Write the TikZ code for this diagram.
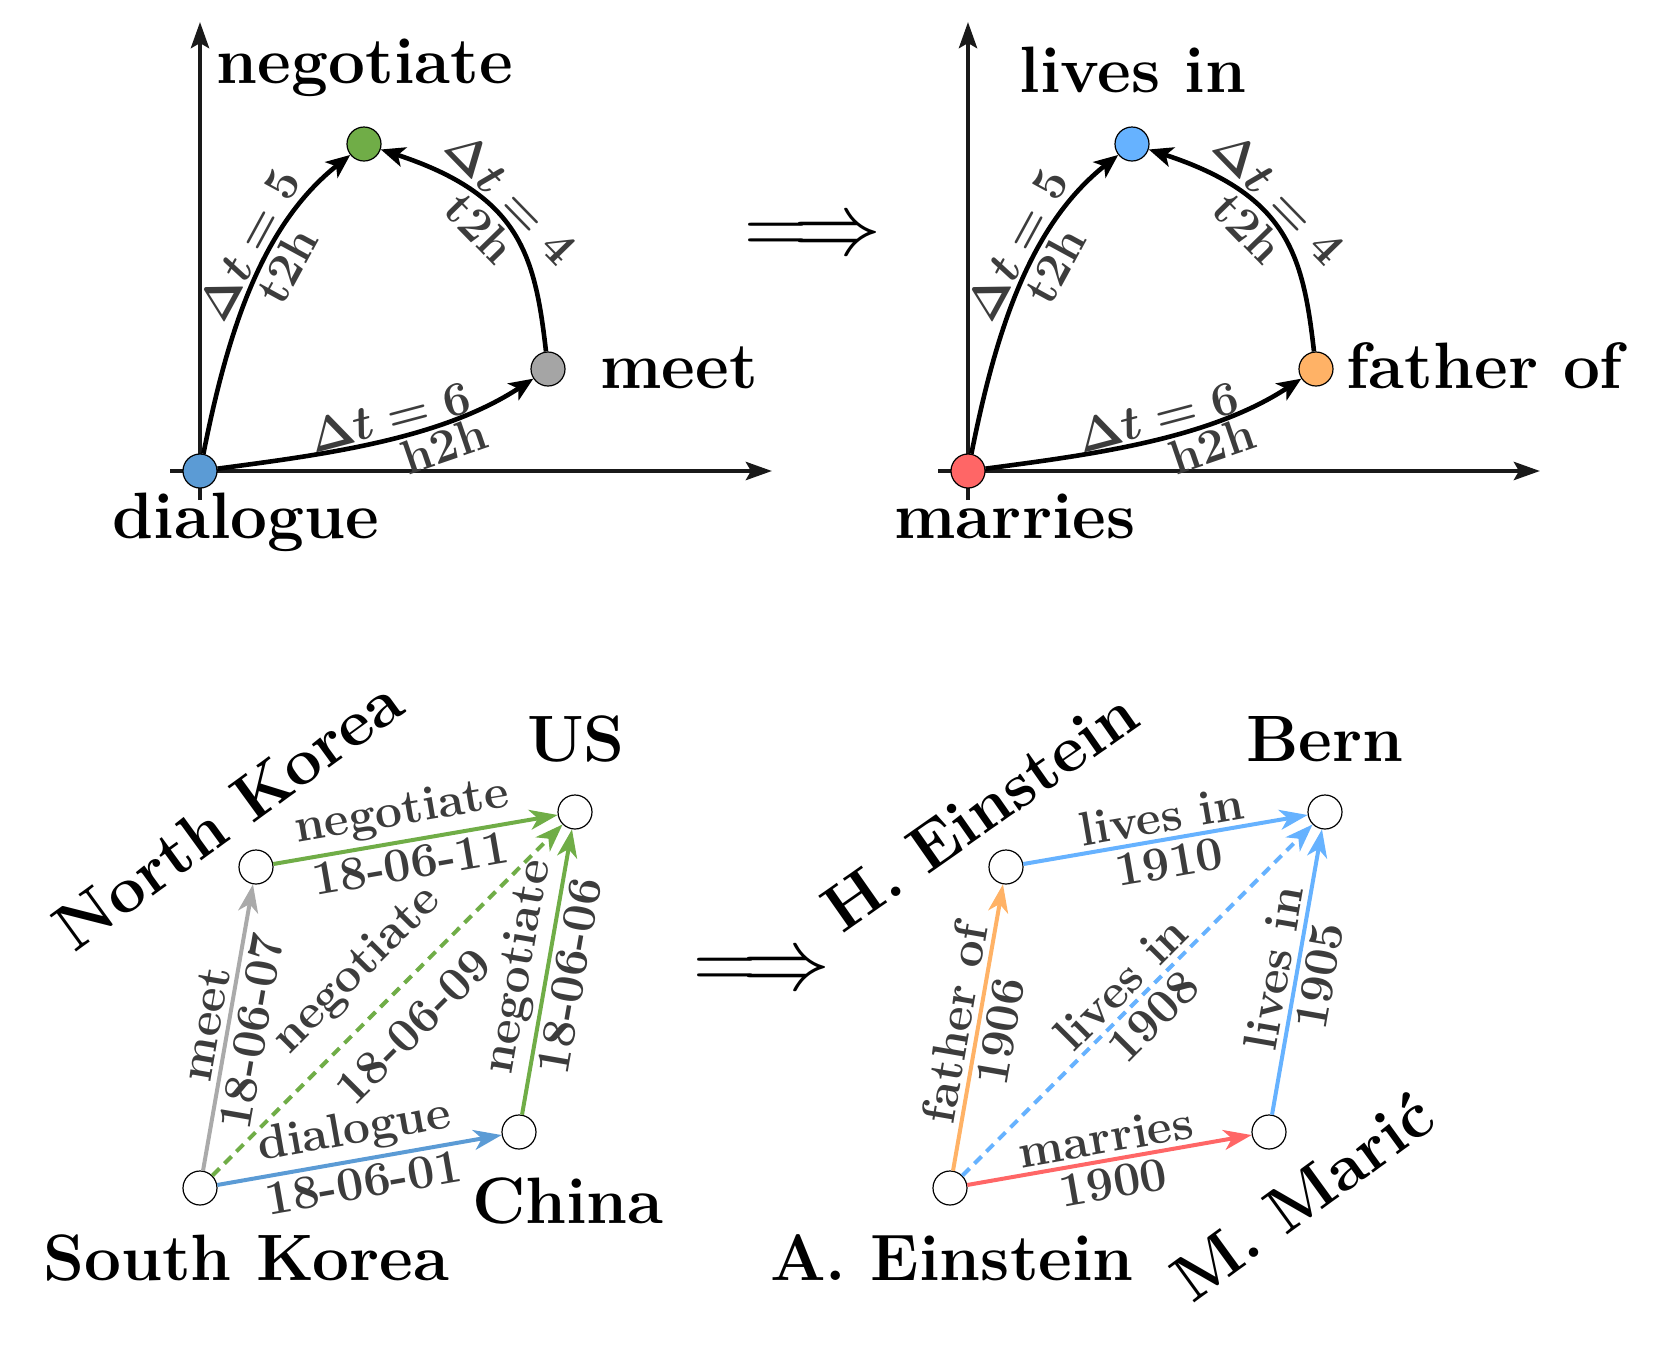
\RequirePackage{fix-cm}
\documentclass[tikz,border=0pt]{standalone}
\usepackage{fontspec}
\usetikzlibrary{arrows.meta}
\definecolor{cblue}{HTML}{5B9BD5}
\definecolor{cgreen}{HTML}{70AD47}
\definecolor{cgray}{HTML}{A5A5A5}
\definecolor{cgrayl}{HTML}{AAAAAA}
\definecolor{cred}{HTML}{FF6666}
\definecolor{cbluel}{HTML}{66B2FF}
\definecolor{corange}{HTML}{FFB266}
\definecolor{labgray}{HTML}{3C3C3C}
\tikzset{
  axis/.style={line width=2.3pt, draw=black!90, -{Stealth[length=13pt,width=9pt,inset=2.5pt]}},
  curve/.style={line width=2.3pt, -{Stealth[length=12pt,width=10pt,inset=3pt]}},
  ev/.style={circle, draw=black, line width=0.6pt, minimum size=17pt, inner sep=0pt},
  evw/.style={ev, fill=white},
  big/.style={font=\fontsize{32.8}{38}\selectfont\bfseries, inner sep=0pt},
  lab/.style={font=\fontsize{24}{28}\selectfont\bfseries\boldmath, text=labgray, sloped, inner sep=2.5pt},
  rel/.style={line width=2pt, -{Stealth[length=14pt,width=10pt,inset=4pt]}},
  dsh/.style={dash pattern=on 5pt off 3.5pt},
  impl/.style={font=\fontsize{44}{44}\selectfont, inner sep=0pt},
}
\begin{document}
\begin{tikzpicture}[x=0.5pt,y=-0.5pt]
\useasboundingbox (0,0) rectangle (1662,1350);

% ---------- top left ----------
\coordinate (ax1o) at (170,471); \coordinate (ax1x) at (772,471);
\coordinate (ay1o) at (200,500); \coordinate (ay1y) at (200,22);
\draw[axis] (ax1o) -- (ax1x);
\draw[axis] (ay1o) -- (ay1y);
\node[ev, fill=cblue] (dia) at (200,471) {};
\node[ev, fill=cgreen] (neg) at (364,144) {};
\node[ev, fill=cgray] (mee) at (548,369) {};
\node[big, anchor=base] (tneg) at (365,83) {negotiate};
\node[big, anchor=base west] (tmee) at (600,388) {meet};
\node[big, anchor=base] (tdia) at (246,538) {dialogue};
\draw[curve] (dia) .. controls (228,330) and (262,225) .. (neg)
  node[lab, above, pos=0.6, inner sep=1.5pt] {$\Delta t = 5$}
  node[lab, below, pos=0.6, inner sep=1.5pt] {t2h};
\draw[curve] (mee) .. controls (535,255) and (520,195) .. (neg)
  node[lab, above, pos=0.6, inner sep=1.5pt] {$\Delta t = 4$}
  node[lab, below, pos=0.6, inner sep=1.5pt] {t2h};
\draw[curve] (dia) .. controls (320,455) and (440,440) .. (mee)
  node[lab, above, pos=0.55, inner sep=1.5pt] {$\Delta t = 6$}
  node[lab, below, pos=0.68, inner sep=1.5pt] {h2h};

\node[impl] (imp1) at (813,238) {$\Longrightarrow$};

% ---------- top right ----------
\coordinate (ax2o) at (938,471); \coordinate (ax2x) at (1540,471);
\coordinate (ay2o) at (968,500); \coordinate (ay2y) at (968,22);
\draw[axis] (ax2o) -- (ax2x);
\draw[axis] (ay2o) -- (ay2y);
\node[ev, fill=cred] (mar) at (968,471) {};
\node[ev, fill=cbluel] (liv) at (1132,144) {};
\node[ev, fill=corange] (fat) at (1316,369) {};
\node[big, anchor=base] (tliv) at (1133,92) {lives in};
\node[big, anchor=base west] (tfat) at (1346,388) {father of};
\node[big, anchor=base] (tmar) at (1015,538) {marries};
\draw[curve] (mar) .. controls (996,330) and (1030,225) .. (liv)
  node[lab, above, pos=0.6, inner sep=1.5pt] {$\Delta t = 5$}
  node[lab, below, pos=0.6, inner sep=1.5pt] {t2h};
\draw[curve] (fat) .. controls (1303,255) and (1288,195) .. (liv)
  node[lab, above, pos=0.6, inner sep=1.5pt] {$\Delta t = 4$}
  node[lab, below, pos=0.6, inner sep=1.5pt] {t2h};
\draw[curve] (mar) .. controls (1088,455) and (1208,440) .. (fat)
  node[lab, above, pos=0.55, inner sep=1.5pt] {$\Delta t = 6$}
  node[lab, below, pos=0.68, inner sep=1.5pt] {h2h};

% ---------- bottom left ----------
\node[evw] (sk) at (200,1188) {};
\node[evw] (cn) at (519,1132) {};
\node[evw] (nk) at (256,867) {};
\node[evw] (us) at (575,812) {};
\draw[rel, draw=cgrayl] (sk) -- (nk)
  node[lab, above, pos=0.5] {meet}
  node[lab, below, pos=0.5] {18-06-07};
\draw[rel, draw=cgreen] (nk) -- (us)
  node[lab, above, pos=0.47] {negotiate}
  node[lab, below, pos=0.47] {18-06-11};
\draw[rel, draw=cgreen, dsh] (sk) -- (us)
  node[lab, above=7pt, pos=0.5] {negotiate}
  node[lab, below=7pt, pos=0.5] {18-06-09};
\draw[rel, draw=cblue] (sk) -- (cn)
  node[lab, above, pos=0.5] {dialogue}
  node[lab, below, pos=0.5] {18-06-01};
\draw[rel, draw=cgreen] (cn) -- (us)
  node[lab, above, pos=0.5] {negotiate}
  node[lab, below, pos=0.5] {18-06-06};
\node[big, anchor=base] (tsk) at (246,1280) {South Korea};
\node[big, anchor=base] (tcn) at (568,1223) {China};
\node[big, anchor=base] (tus) at (576,761) {US};
\node[big, rotate=36] (tnk) at (228,814) {North Korea};

\node[impl] (imp2) at (762,973) {$\Longrightarrow$};

% ---------- bottom right ----------
\node[evw] (ae) at (950,1188) {};
\node[evw] (mm) at (1269,1132) {};
\node[evw] (he) at (1006,867) {};
\node[evw] (be) at (1325,812) {};
\draw[rel, draw=corange] (ae) -- (he)
  node[lab, above, pos=0.5] {father of}
  node[lab, below, pos=0.5] {1906};
\draw[rel, draw=cbluel] (he) -- (be)
  node[lab, above, pos=0.5] {lives in}
  node[lab, below, pos=0.5] {1910};
\draw[rel, draw=cbluel, dsh] (ae) -- (be)
  node[lab, above, pos=0.5] {lives in}
  node[lab, below, pos=0.5] {1908};
\draw[rel, draw=cbluel] (mm) -- (be)
  node[lab, above, pos=0.5] {lives in}
  node[lab, below, pos=0.5] {1905};
\draw[rel, draw=cred] (ae) -- (mm)
  node[lab, above, pos=0.5] {marries}
  node[lab, below, pos=0.5] {1900};
\node[big, anchor=base] (tae) at (952,1280) {A. Einstein};
\node[big, anchor=base] (tbe) at (1325,761) {Bern};
\node[big, rotate=35] (the) at (980,811) {H. Einstein};
\node[big, rotate=36] (tmm) at (1302,1196) {M. Marić};
\end{tikzpicture}
\end{document}
